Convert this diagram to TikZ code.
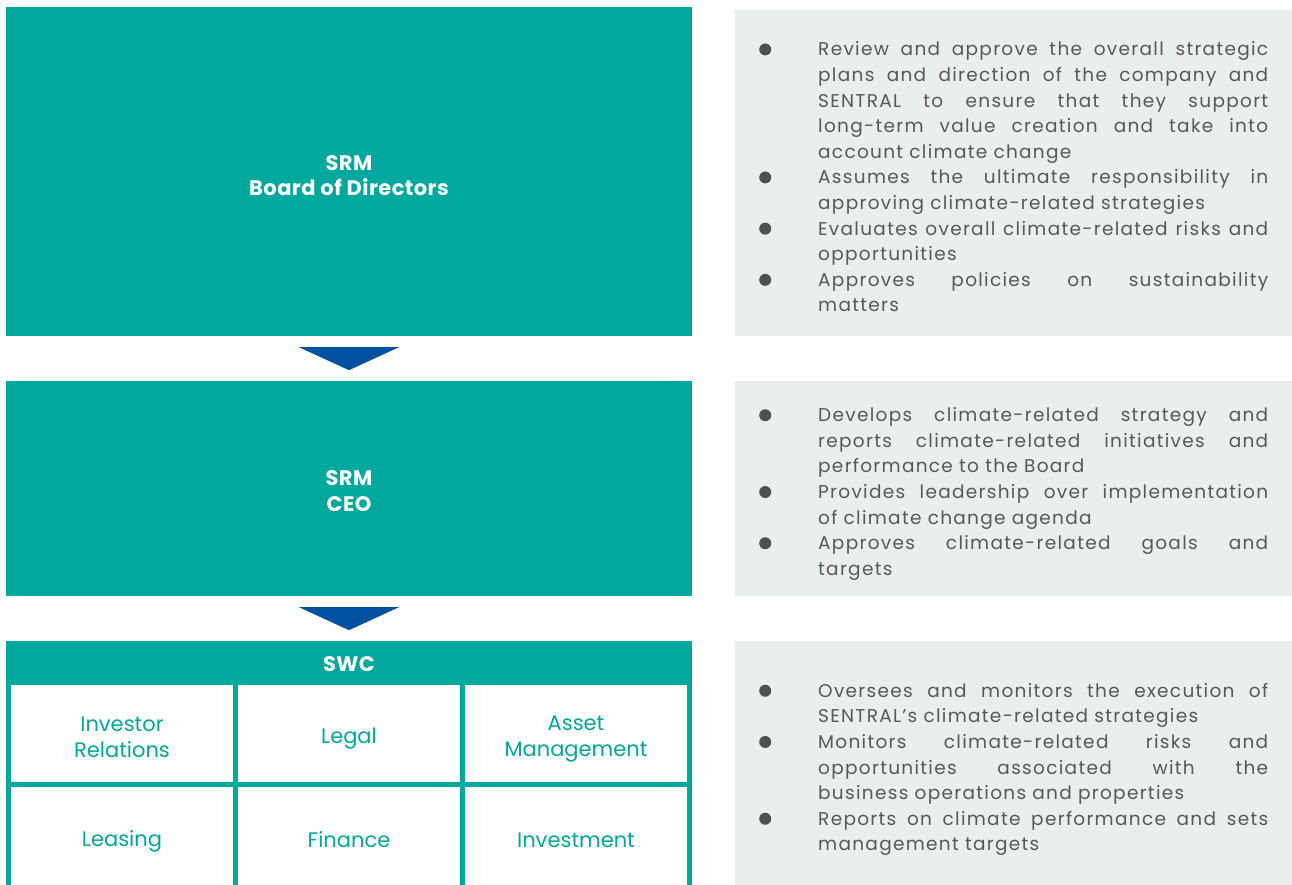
\documentclass[tikz,border=0pt]{standalone}
\usepackage{fontspec}
\setmainfont{Poppins}
\usetikzlibrary{calc}
\definecolor{tealA}{RGB}{0,168,157}
\definecolor{arrowblue}{RGB}{0,82,160}
\definecolor{panelbg}{RGB}{232,239,238}
\definecolor{txtgray}{RGB}{88,88,88}
\definecolor{bulgray}{RGB}{80,80,80}
\newcommand\bul{\leavevmode\llap{\makebox[59pt][l]{\tikz[x=1pt,y=1pt,baseline=0pt]\fill[bulgray] (6,6.5) circle[radius=6];}}}
\newcommand\parsetup{\parindent=0pt\relax\hyphenpenalty=10000\relax\exhyphenpenalty=10000\relax\tolerance=10000\relax\emergencystretch=20pt\relax}
\begin{document}
\begin{tikzpicture}[x=1pt,y=-1pt,
  tealbox/.style={fill=tealA,inner sep=0pt,minimum width=686},
  boxlabel/.style={text=white,inner sep=0pt,align=center,font=\fontsize{21}{25.5}\selectfont\bfseries\addfontfeature{LetterSpace=2}},
  cellbox/.style={fill=white,inner sep=0pt,minimum width=222},
  celltext/.style={inner sep=0pt,align=center,text=tealA,font=\fontsize{21}{26}\selectfont},
  panel/.style={fill=panelbg,inner sep=0pt,minimum width=557},
  paneltext/.style={inner sep=0pt,text width=450pt,align=justify,anchor=west,text=txtgray,
    font=\fontsize{18.5}{25.6}\selectfont\addfontfeature{LetterSpace=7},
    execute at begin node=\parsetup},
  arrowtri/.style={fill=arrowblue}]
\useasboundingbox (0,0) rectangle (1292,885);
\fill[white] (0,0) rectangle (1292,885);
% left column
\node[tealbox,minimum height=329] (board) at (349,171.5) {};
\node[boxlabel] (boardlbl) at ($(board.center)+(0,4)$) {SRM\\Board of Directors};
\node[tealbox,minimum height=215] (ceo) at (349,488.5) {};
\node[boxlabel] (ceolbl) at ($(ceo.center)+(0,2.5)$) {SRM\\CEO};
\node[tealbox,minimum height=44] (swc) at (349,663) {};
\node[boxlabel] (swclbl) at ($(swc.center)+(0,1)$) {SWC};
\fill[tealA] (swc.south west) rectangle (692,885);
\node[cellbox,minimum height=97] (ir) at (122,733.5) {};
\node[cellbox,minimum height=97] (legal) at (349,733.5) {};
\node[cellbox,minimum height=97] (am) at (576,733.5) {};
\node[cellbox,minimum height=98] (leasing) at (122,836) {};
\node[cellbox,minimum height=98] (fin) at (349,836) {};
\node[cellbox,minimum height=98] (inv) at (576,836) {};
\node[celltext] (irt) at ($(ir.center)+(0,4)$) {Investor\\Relations};
\node[celltext] (legalt) at ($(legal.center)+(0,5)$) {Legal};
\node[celltext] (amt) at ($(am.center)+(0,5.5)$) {Asset\\Management};
\node[celltext] (leasingt) at ($(leasing.center)+(0,5)$) {Leasing};
\node[celltext] (fint) at ($(fin.center)+(0,4)$) {Finance};
\node[celltext] (invt) at ($(inv.center)+(0,4)$) {Investment};
% arrows
\fill[arrowtri] ($(board.south)+(-50,11)$) -- ($(board.south)+(50,11)$) -- ($(board.south)+(0,34)$) -- cycle;
\fill[arrowtri] ($(ceo.south)+(-50,11)$) -- ($(ceo.south)+(50,11)$) -- ($(ceo.south)+(0,34)$) -- cycle;
% right panels
\node[panel,minimum height=326] (p1) at (1013.5,173) {};
\node[panel,minimum height=215] (p2) at (1013.5,488.5) {};
\node[panel,minimum height=244] (p3) at (1013.5,763) {};
\node[paneltext] (t1) at (818,177) {\bul Review and approve the overall strategic\linebreak
plans and direction of the company and\linebreak
SENTRAL to ensure that they support\linebreak
long-term value creation and take into\linebreak
account climate change\par
\bul Assumes the ultimate responsibility in\linebreak
approving climate-related strategies\par
\bul Evaluates overall climate-related risks and\linebreak
opportunities\par
\bul Approves policies on sustainability\linebreak
matters};
\node[paneltext] (t2) at (818,494) {\bul Develops climate-related strategy and\linebreak
reports climate-related initiatives and\linebreak
performance to the Board\par
\bul Provides leadership over implementation\linebreak
of climate change agenda\par
\bul Approves climate-related goals and\linebreak
targets};
\node[paneltext] (t3) at (818,769.5) {\bul Oversees and monitors the execution of\linebreak
SENTRAL’s climate-related strategies\par
\bul Monitors climate-related risks and\linebreak
opportunities associated with the\linebreak
business operations and properties\par
\bul Reports on climate performance and sets\linebreak
management targets};
\end{tikzpicture}
\end{document}
